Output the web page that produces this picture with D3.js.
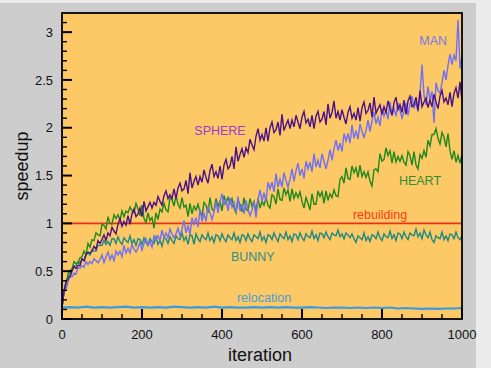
<!DOCTYPE html>
<html><head><meta charset="utf-8">
<script src="https://cdn.jsdelivr.net/npm/d3@7"></script>
<style>html,body{margin:0;padding:0;background:#ececec;}svg{display:block;}</style>
</head><body>
<script>
const step = 5; // sample spacing in iterations for the noisy curves
const sphere = [.12,.29,.39,.42,.44,.50,.55,.53,.56,.56,.63,.61,.67,.70,.69,.71,.76,.73,.82,.79,
.83,.88,.82,.90,.87,.96,.92,.89,.99,1.05,.97,1.02,.98,1.08,.99,1.10,1.15,1.07,1.10,1.16,
1.07,1.23,1.13,1.175,1.22,1.16,1.22,1.19,1.28,1.23,1.19,1.29,1.34,1.26,1.30,1.26,1.36,1.26,1.37,1.42,
1.34,1.36,1.45,1.31,1.53,1.37,1.44,1.49,1.40,1.49,1.43,1.56,1.48,1.42,1.55,1.62,1.49,1.54,1.47,1.60,
1.46,1.61,1.67,1.57,1.60,1.70,1.57,1.80,1.65,1.72,1.78,1.69,1.79,1.74,1.88,1.82,1.77,1.91,1.99,1.87,
1.93,1.86,2.00,1.86,2.00,2.06,1.95,1.98,2.06,1.92,2.14,1.97,2.03,2.08,1.99,2.08,2.01,2.13,2.06,1.99,
2.11,2.17,2.05,2.09,2.01,2.13,1.99,2.12,2.17,2.06,2.09,2.17,2.03,2.25,2.10,2.16,2.28,2.10,2.17,2.08,
2.19,2.11,2.04,2.16,2.22,2.10,2.15,2.08,2.21,2.07,2.21,2.27,2.15,2.18,2.26,2.11,2.32,2.15,2.20,2.24,
2.14,2.22,2.16,2.28,2.20,2.13,2.26,2.32,2.19,2.24,2.16,2.29,2.14,2.28,2.33,2.22,2.24,2.32,2.18,2.39,
2.22,2.27,2.31,2.21,2.29,2.22,2.35,2.27,2.20,2.33,2.39,2.27,2.31,2.24,2.37,2.22,2.36,2.42,2.31,2.48,2.28];
const man = [.12,.28,.31,.39,.45,.44,.48,.47,.54,.53,.56,.54,.60,.57,.60,.58,.63,.61,.59,.62,
.67,.59,.65,.70,.62,.67,.61,.71,.67,.71,.65,.77,.69,.74,.69,.78,.73,.70,.74,.80,
.72,.79,.84,.77,.81,.75,.87,.83,.87,.82,.93,.85,.90,.85,.94,.89,.85,.89,.95,.87,
.94,1.03,.90,.98,.88,1.06,.99,1.06,.96,1.15,1.02,1.10,1.02,1.18,1.11,1.04,1.12,1.23,1.11,1.22,
1.31,1.19,1.26,1.13,1.27,1.17,1.22,1.11,1.28,1.13,1.20,1.10,1.24,1.15,1.08,1.14,1.23,1.06,1.25,1.35,
1.23,1.32,1.23,1.43,1.36,1.43,1.33,1.52,1.38,1.46,1.38,1.53,1.45,1.38,1.46,1.57,1.44,1.55,1.63,1.50,
1.57,1.47,1.65,1.57,1.64,1.54,1.73,1.59,1.66,1.58,1.73,1.65,1.57,1.66,1.77,1.66,1.78,1.87,1.76,1.84,
1.75,1.94,1.86,1.94,1.84,2.03,1.89,1.97,1.88,2.04,1.96,1.90,1.97,2.08,1.96,2.07,2.16,2.04,2.11,2.02,
2.20,2.12,2.19,2.09,2.27,2.13,2.20,2.12,2.26,2.18,2.10,2.17,2.26,2.13,2.25,2.33,2.20,2.27,2.17,2.35,
2.66,2.34,2.24,2.43,2.29,2.38,2.05,2.47,2.39,2.36,2.47,2.60,2.50,2.65,2.77,2.66,2.76,2.70,3.13,2.62,2.75];
const heart = [.12,.29,.35,.47,.51,.52,.60,.58,.58,.64,.65,.71,.67,.79,.75,.83,.82,.90,.88,.87,
.99,.98,.94,1.07,1.00,.99,1.09,1.05,1.09,1.03,1.13,1.07,1.13,1.11,1.17,1.13,1.11,1.21,1.15,1.08,
1.19,1.05,1.01,1.11,1.03,1.06,.95,1.11,1.04,1.15,1.12,1.21,1.14,1.12,1.27,1.25,1.18,1.29,1.20,1.16,
1.27,1.17,1.19,1.07,1.21,1.10,1.18,1.14,1.20,1.12,1.08,1.22,1.19,1.11,1.27,1.15,1.13,1.26,1.18,1.23,
1.13,1.29,1.21,1.27,1.21,1.26,1.16,1.11,1.24,1.20,1.12,1.27,1.15,1.13,1.26,1.18,1.23,1.12,1.26,1.16,
1.23,1.19,1.27,1.19,1.16,1.30,1.28,1.20,1.36,1.25,1.24,1.37,1.30,1.35,1.23,1.36,1.26,1.32,1.27,1.33,
1.23,1.16,1.27,1.21,1.14,1.31,1.20,1.20,1.34,1.28,1.33,1.21,1.34,1.24,1.31,1.27,1.35,1.29,1.28,1.46,
1.49,1.42,1.58,1.47,1.46,1.60,1.53,1.58,1.48,1.61,1.49,1.54,1.48,1.54,1.44,1.39,1.56,1.57,1.54,1.73,
1.65,1.67,1.79,1.71,1.76,1.63,1.75,1.64,1.70,1.65,1.71,1.64,1.61,1.75,1.71,1.61,1.75,1.61,1.57,1.72,
1.68,1.76,1.69,1.87,1.81,1.93,1.93,1.99,1.89,1.83,1.95,1.90,1.80,1.94,1.76,1.67,1.76,1.64,1.71,1.63,1.72];
const bunny = [.12,.29,.39,.44,.47,.53,.55,.56,.60,.58,.63,.61,.68,.69,.67,.72,.71,.71,.77,.77,
.77,.82,.78,.81,.77,.84,.84,.79,.86,.81,.78,.85,.82,.80,.87,.79,.83,.77,.84,.83,
.78,.85,.80,.77,.84,.81,.79,.86,.78,.82,.76,.85,.84,.79,.86,.82,.79,.87,.84,.83,
.90,.82,.86,.78,.88,.87,.78,.89,.84,.81,.88,.85,.83,.90,.82,.86,.80,.88,.87,.82,
.89,.84,.81,.88,.85,.83,.90,.82,.86,.80,.88,.87,.82,.89,.84,.81,.88,.86,.84,.91,
.82,.86,.80,.88,.87,.83,.90,.85,.81,.89,.86,.84,.91,.83,.87,.81,.89,.88,.83,.90,
.85,.82,.89,.86,.85,.92,.84,.88,.82,.90,.89,.85,.91,.86,.83,.90,.88,.87,.93,.86,
.89,.84,.90,.88,.85,.89,.84,.80,.87,.85,.83,.90,.82,.86,.81,.88,.87,.84,.91,.85,
.82,.89,.86,.85,.92,.84,.88,.82,.90,.89,.84,.91,.86,.83,.90,.88,.87,.94,.86,.90,
.84,.93,.88,.85,.91,.83,.80,.87,.85,.84,.91,.83,.87,.82,.89,.88,.84,.91,.85,.83,.87];
const relocStep = 20;
const relocation = [.12,.125,.12,.13,.12,.125,.12,.125,.13,.12,.125,.12,.125,.12,.13,.125,.12,.125,.12,.13,
.12,.125,.12,.12,.125,.12,.125,.12,.125,.12,.12,.125,.12,.115,.12,.12,.115,.12,.115,.12,
.115,.12,.11,.115,.11,.105,.11,.105,.11,.11,.115];
const rebuilding = 1;
const xTicks = [0,200,400,600,800,1000];
const yTicks = [0,0.5,1,1.5,2,2.5,3];
const yTickLabels = ["0","0.5","1","1.5","2","2.5","3"];
const labels = [
  {text:"SPHERE", x:395, y:1.92, color:"#9a3ad0"},
  {text:"MAN", x:928, y:2.87, color:"#7a7ae2"},
  {text:"HEART", x:895, y:1.40, color:"#2f8f35"},
  {text:"rebuilding", x:795, y:1.05, color:"#ff3a12"},
  {text:"BUNNY", x:477, y:0.61, color:"#2a9082"},
  {text:"relocation", x:505, y:0.18, color:"#4a9ed8"}
];

const W = 491, H = 368;
const L = 62, R = 462, T = 13, B = 319;
const svg = d3.select("body").append("svg").attr("width", W).attr("height", H);
svg.append("rect").attr("x",0).attr("y",3).attr("width",476).attr("height",H-3).attr("fill","#cdcdcd");

const x = d3.scaleLinear().domain([0,1000]).range([L,R]);
const y = d3.scaleLinear().domain([0,3.2]).range([B,T]);

svg.append("rect").attr("x",L).attr("y",T).attr("width",R-L).attr("height",B-T).attr("fill","#fdc866");
svg.append("clipPath").attr("id","clip").append("rect").attr("x",L).attr("y",T).attr("width",R-L).attr("height",B-T);

const g = svg.append("g").attr("clip-path","url(#clip)");
const line = (st) => d3.line().x((d,i)=>x(i*st)).y(d=>y(d));

g.append("path").datum(relocation).attr("d", line(relocStep)).attr("fill","none").attr("stroke","#3a9ae2").attr("stroke-width",2.2);
g.append("line").attr("x1",x(0)).attr("x2",x(1000)).attr("y1",y(rebuilding)).attr("y2",y(rebuilding)).attr("stroke","#e8331c").attr("stroke-width",1.6);
g.append("path").datum(bunny).attr("d", line(step)).attr("fill","none").attr("stroke","#1e8a7e").attr("stroke-width",1.4);
g.append("path").datum(heart).attr("d", line(step)).attr("fill","none").attr("stroke","#1f8a1c").attr("stroke-width",1.4);
g.append("path").datum(man).attr("d", line(step)).attr("fill","none").attr("stroke","#7070f4").attr("stroke-width",1.4);
g.append("path").datum(sphere).attr("d", line(step)).attr("fill","none").attr("stroke","#4a1288").attr("stroke-width",1.4);

// ticks (inward)
const tk = svg.append("g").attr("stroke","#000");
d3.range(0, 3.15, 0.1).forEach(v=>{
  const major = Math.abs(v*2 - Math.round(v*2)) < 1e-6;
  tk.append("line").attr("x1",L).attr("x2",L+(major?10:5)).attr("y1",y(v)).attr("y2",y(v)).attr("stroke-width",major?2:1.4);
});
d3.range(0, 1001, 50).forEach(v=>{
  const major = v % 200 === 0;
  tk.append("line").attr("y1",B).attr("y2",B-(major?10:5)).attr("x1",x(v)).attr("x2",x(v)).attr("stroke-width",major?2:1.4);
});

svg.append("rect").attr("x",L).attr("y",T).attr("width",R-L).attr("height",B-T).attr("fill","none").attr("stroke","#000").attr("stroke-width",1.8);

const font = "'Liberation Sans', Arial, Helvetica, sans-serif";
svg.append("g").selectAll("text").data(yTicks).join("text")
  .attr("x", L-9).attr("y", d=>y(d)).attr("dy","0.36em").attr("text-anchor","end")
  .attr("font-family",font).attr("font-size",13).attr("fill","#111").text((d,i)=>yTickLabels[i]);
svg.append("g").selectAll("text").data(xTicks).join("text")
  .attr("x", d=>x(d)).attr("y", B+20).attr("text-anchor","middle")
  .attr("font-family",font).attr("font-size",13).attr("fill","#111").text(d=>String(d));

svg.append("text").attr("x",260).attr("y",361).attr("text-anchor","middle")
  .attr("font-family",font).attr("font-size",18).attr("fill","#111").text("iteration");
svg.append("text").attr("transform","translate(28,166) rotate(-90)").attr("text-anchor","middle")
  .attr("font-family",font).attr("font-size",18).attr("fill","#111").text("speedup");

svg.append("g").selectAll("text").data(labels).join("text")
  .attr("x", d=>x(d.x)).attr("y", d=>y(d.y)).attr("text-anchor","middle")
  .attr("font-family",font).attr("font-size",12.5).attr("fill",d=>d.color).text(d=>d.text);
</script>
</body></html>
